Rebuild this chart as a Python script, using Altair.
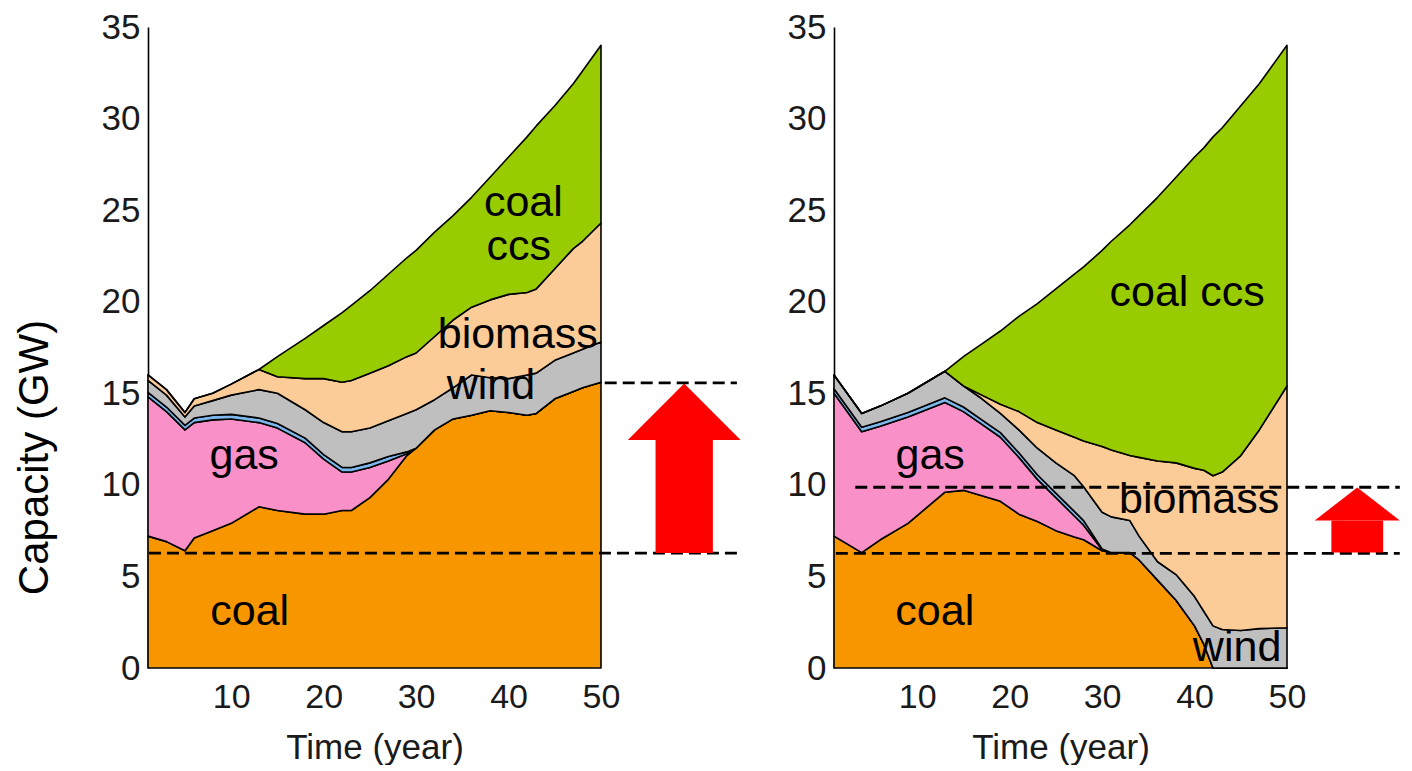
import altair as alt
import pandas as pd

# ---------------- data ----------------
layers = ["coal", "gas", "oil", "wind", "biomass", "coal ccs"]
colors = ["#F89600", "#FA90C8", "#7DB8EC", "#BFBFBF", "#FBCB98", "#99CC00"]

# Left panel (scenario 1)
left_years = [1, 3, 5, 6, 8, 10, 13, 15, 18, 20, 22, 23, 25, 27, 29, 30, 32, 34, 36, 38, 40, 42, 43, 45, 47, 48, 50]
left_coal = [7.2, 6.9, 6.4, 7.1, 7.5, 7.9, 8.8, 8.6, 8.4, 8.4, 8.6, 8.6, 9.3, 10.3, 11.6, 12.0, 13.0, 13.6, 13.8, 14.05, 13.95, 13.8, 13.9, 14.7, 15.1, 15.3, 15.6]
left_gas = [7.6, 7.1, 6.6, 6.3, 6.05, 5.7, 4.6, 4.5, 3.9, 3.0, 2.1, 2.1, 1.65, 1.0, 0.1, 0, 0, 0, 0, 0, 0, 0, 0, 0, 0, 0, 0]
left_oil = [0.25, 0.25, 0.25, 0.25, 0.25, 0.25, 0.25, 0.25, 0.25, 0.25, 0.25, 0.25, 0.25, 0.25, 0.1, 0, 0, 0, 0, 0, 0, 0, 0, 0, 0, 0, 0]
left_wind = [0.65, 0.65, 0.45, 0.65, 0.8, 1.05, 1.55, 1.65, 1.55, 1.75, 1.95, 1.95, 1.9, 1.95, 2.1, 2.1, 1.65, 1.7, 2.2, 1.8, 1.85, 2.2, 2.2, 2.1, 2.1, 2.1, 2.2]
left_biomass = [0.3, 0.3, 0.25, 0.4, 0.4, 0.6, 1.1, 0.9, 1.7, 2.4, 2.7, 2.8, 3.0, 3.0, 3.1, 3.1, 3.45, 3.7, 3.7, 4.25, 4.6, 4.5, 4.6, 5.0, 5.7, 5.9, 6.5]
left_ccs = [0, 0, 0, 0, 0, 0, 0, 1.1, 2.2, 2.9, 3.8, 4.1, 4.5, 5.0, 5.4, 5.6, 5.7, 5.7, 6.0, 6.7, 7.5, 8.5, 8.9, 8.9, 9.0, 9.3, 9.7]

# Right panel (scenario 2)
right_years = [1, 4, 6, 9, 13, 15, 17, 19, 21, 23, 25, 27, 28, 30, 31, 33, 34, 36, 38, 40, 41, 42, 43, 45, 47, 50]
right_coal = [7.2, 6.3, 7.0, 7.9, 9.6, 9.7, 9.4, 9.1, 8.4, 8.0, 7.5, 7.15, 7.0, 6.4, 6.3, 6.3, 5.9, 4.8, 3.7, 2.3, 1.3, 0, 0, 0, 0, 0]
right_gas = [7.8, 6.6, 6.2, 5.8, 4.9, 4.3, 3.9, 3.5, 3.1, 2.3, 1.8, 1.15, 0.8, 0.05, 0, 0, 0, 0, 0, 0, 0, 0, 0, 0, 0, 0]
right_oil = [0.25, 0.25, 0.25, 0.25, 0.25, 0.25, 0.25, 0.25, 0.25, 0.25, 0.25, 0.25, 0.25, 0.05, 0, 0, 0, 0, 0, 0, 0, 0, 0, 0, 0, 0]
right_wind = [0.75, 0.75, 0.85, 1.05, 1.45, 1.15, 1.15, 1.05, 1.25, 1.45, 1.65, 1.95, 1.85, 2.0, 1.95, 1.75, 1.3, 1.0, 1.4, 1.6, 1.8, 2.3, 2.1, 2.05, 2.15, 2.2]
right_biomass = [0, 0, 0, 0, 0, 0, 0.2, 0.5, 1.0, 1.4, 1.8, 2.1, 2.5, 3.6, 3.65, 3.55, 4.3, 5.5, 6.1, 7.0, 7.7, 8.2, 8.6, 9.55, 10.85, 13.2]
right_ccs = [0, 0, 0, 0, 0, 1.6, 2.8, 4.0, 5.2, 6.5, 7.7, 8.9, 9.5, 10.7, 11.4, 12.6, 13.2, 14.4, 15.6, 17.0, 17.6, 18.5, 18.8, 19.1, 18.9, 18.6]

# Annotations (data units)
left_label_text = ["coal", "ccs", "biomass", "wind", "gas", "coal"]
left_label_x = [41.6, 41.1, 41.0, 38.1, 11.4, 12.0]
left_label_y = [25.4, 23.0, 18.2, 15.4, 11.6, 3.05]
right_label_text = ["coal ccs", "gas", "biomass", "coal", "wind"]
right_label_x = [39.2, 11.4, 40.5, 11.9, 44.6]
right_label_y = [20.5, 11.6, 9.15, 3.05, 1.1]

# Dashed reference lines
left_dash_x1 = [1.1, 50.4]
left_dash_x2 = [64.7, 64.7]
left_dash_y = [6.27, 15.57]
right_dash_x1 = [1.2, 3.3]
right_dash_x2 = [62.2, 62.2]
right_dash_y = [6.26, 9.87]

# Red arrows: head triangle and shaft
left_head_x = [52.9, 59.0, 65.1]
left_head_y = [12.45, 15.53, 12.45]
left_shaft = {"x1": [55.9], "x2": [62.1], "y1": [6.28], "y2": [12.45]}
right_head_x = [53.0, 57.6, 62.2]
right_head_y = [8.06, 9.85, 8.06]
right_shaft = {"x1": [54.8], "x2": [60.4], "y1": [6.3], "y2": [8.06]}

FONT = "Liberation Sans"
XDOM = [1, 50]
YDOM = [0, 35]


def stack_df(years, series):
    rows = []
    for k, (name, vals) in enumerate(zip(layers, series)):
        for x, v in zip(years, vals):
            rows.append({"year": x, "layer": name, "value": v, "order": k})
    return pd.DataFrame(rows)


def panel(years, series, labels, dashes, head, shaft, ytitle):
    df = stack_df(years, series)
    xaxis = alt.Axis(values=[10, 20, 30, 40, 50], domain=False, ticks=False, grid=False,
                     labelFontSize=34, labelFont=FONT, labelColor="#1a1a1a", labelPadding=12,
                     labelFlush=False, labelOverlap=False,
                     title="Time (year)", titleFont=FONT, titleFontSize=35,
                     titleFontWeight="normal", titleColor="#1a1a1a", titlePadding=16)
    yaxis_kw = dict(values=[0, 5, 10, 15, 20, 25, 30, 35], domain=True, domainColor="black",
                    domainWidth=1.6, ticks=False, grid=False, labelFontSize=35, labelFont=FONT,
                    labelColor="#1a1a1a", labelPadding=8, labelOverlap=False)
    if ytitle:
        yaxis = alt.Axis(title=ytitle, titleFont=FONT, titleFontSize=42, titleFontWeight="normal",
                         titleColor="black", titlePadding=45, titleY=430, **yaxis_kw)
    else:
        yaxis = alt.Axis(title=None, **yaxis_kw)

    xsc = alt.Scale(domain=XDOM, nice=False, zero=False)
    ysc = alt.Scale(domain=YDOM, nice=False)

    def X(f):
        return alt.X(f, type="quantitative", scale=xsc, axis=xaxis)

    def Y(f, stack=None):
        if stack:
            return alt.Y(f, type="quantitative", scale=ysc, axis=yaxis, stack=stack)
        return alt.Y(f, type="quantitative", scale=ysc, axis=yaxis, stack=None)

    areas = alt.Chart(df).mark_area(stroke="black", strokeWidth=1.6, interpolate="linear",
                                    strokeJoin="round").encode(
        x=X("year"),
        y=Y("value", stack="zero"),
        color=alt.Color("layer:N", scale=alt.Scale(domain=layers, range=colors), legend=None),
        order=alt.Order("order:Q"),
    )

    ddf = pd.DataFrame({"x1": dashes[0], "x2": dashes[1], "y": dashes[2]})
    rules = alt.Chart(ddf).mark_rule(color="black", strokeWidth=2.8, strokeDash=[12, 6],
                                     clip=False).encode(
        x=X("x1"), x2="x2", y=Y("y"))

    hdf = pd.DataFrame({"hx": head[0], "hy": head[1], "hb": [head[1][0]] * len(head[0])})
    heads = alt.Chart(hdf).mark_area(color="#FF0000", clip=False).encode(
        x=X("hx"), y=Y("hy"), y2="hb")
    sdf = pd.DataFrame(shaft)
    shafts = alt.Chart(sdf).mark_rect(color="#FF0000", clip=False).encode(
        x=X("x1"), x2="x2", y=Y("y1"), y2="y2")

    ldf = pd.DataFrame({"t": labels[0], "lx": labels[1], "ly": labels[2]})
    texts = alt.Chart(ldf).mark_text(font=FONT, fontSize=43, color="black", align="center",
                                     baseline="middle").encode(
        x=X("lx"), y=Y("ly"), text="t:N")

    return alt.layer(areas, rules, shafts, heads, texts).properties(width=453, height=641)


left = panel(left_years,
             [left_coal, left_gas, left_oil, left_wind, left_biomass, left_ccs],
             (left_label_text, left_label_x, left_label_y),
             (left_dash_x1, left_dash_x2, left_dash_y),
             (left_head_x, left_head_y), left_shaft, "Capacity (GW)")
right = panel(right_years,
              [right_coal, right_gas, right_oil, right_wind, right_biomass, right_ccs],
              (right_label_text, right_label_x, right_label_y),
              (right_dash_x1, right_dash_x2, right_dash_y),
              (right_head_x, right_head_y), right_shaft, None)

chart = alt.hconcat(left, right, spacing=233, bounds="flush").properties(
    padding={"left": 5, "top": 2, "right": 0, "bottom": 0}
).configure_view(stroke=None, strokeWidth=0)

chart.save("out.html", embed_options={"renderer": "svg", "actions": False})
